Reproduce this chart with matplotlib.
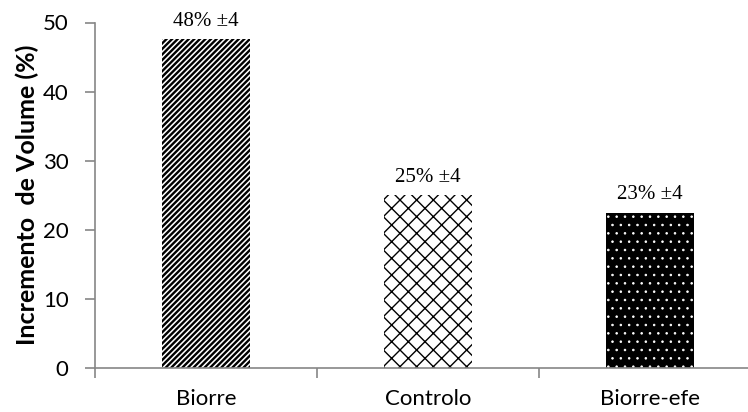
import matplotlib
matplotlib.use("Agg")
import matplotlib.pyplot as plt

# dados do gráfico
categorias = ["Biorre", "Controlo", "Biorre-efe"]
incremento = [47.6, 25.0, 22.5]
rotulos = ["48% \u00b14", "25% \u00b14", "23% \u00b14"]
padroes = ["//////", "xx", ".."]
cores_fundo = ["white", "white", "black"]
cores_padrao = ["black", "black", "white"]
espessura_padrao = [1.7, 1.0, 0.6]

plt.rcParams["font.family"] = ["Lato", "DejaVu Sans"]

fig = plt.figure(figsize=(7.48, 4.12), dpi=100)
ax = fig.add_axes([95 / 748, 44 / 412, 666 / 748, 345.5 / 412])  # passa da borda direita

pos = list(range(len(categorias)))
for x, y, h, fc, ec, lw in zip(pos, incremento, padroes, cores_fundo, cores_padrao, espessura_padrao):
    with plt.rc_context({"hatch.linewidth": lw}):
        ax.bar(x, y, width=0.4, linewidth=0, facecolor=fc, edgecolor=ec, hatch=h)

for x, y, txt in zip(pos, incremento, rotulos):
    ax.annotate(txt, (x, y), xytext=(0, 6), textcoords="offset points",
                ha="center", va="bottom", fontsize=15,
                family=["Liberation Serif", "DejaVu Serif"])

ax.set_ylim(0, 50)
ax.set_xlim(-0.5, 2.5)
ax.set_yticks(range(0, 51, 10))
ax.set_xticks(pos)
ax.set_xticklabels(categorias)
ax.set_xticks([-0.5, 0.5, 1.5, 2.5], minor=True)
ax.tick_params(axis="x", which="major", length=0, pad=15, labelsize=16)
ax.tick_params(axis="x", which="minor", length=7, width=1.2, color="#868686", direction="out")
ax.tick_params(axis="y", length=7, width=1.2, color="#868686", direction="out",
               labelsize=16, pad=12)
ax.set_ylabel("Incremento  de Volume (%)", fontsize=18, fontweight="bold", labelpad=3)

for s in ["top", "right"]:
    ax.spines[s].set_visible(False)
for s in ["left", "bottom"]:
    ax.spines[s].set_color("#868686")
    ax.spines[s].set_linewidth(1.2)

fig.savefig("out.png", dpi=100)
